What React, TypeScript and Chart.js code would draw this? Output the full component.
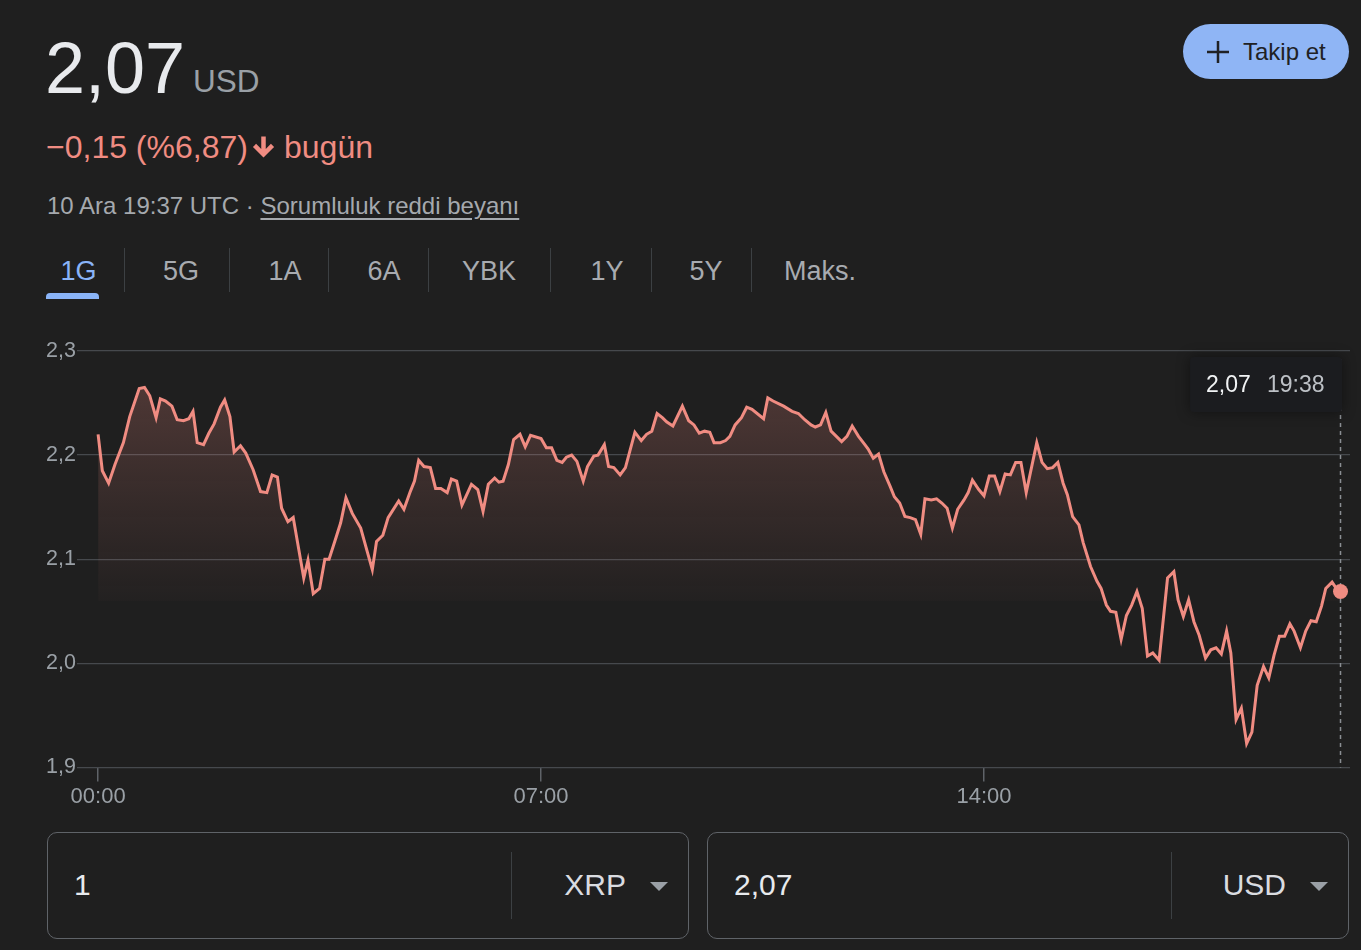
import React, { useEffect, useRef } from "react";
import { Chart, registerables } from "chart.js";

Chart.register(...registerables);

// Minutes since 00:00 (UTC) of each price sample
const times: number[] = [
  0, 4, 10, 16, 24, 30, 39, 44, 49, 55, 59, 64, 70, 75, 81, 86, 90, 94, 100, 105,
  110, 116, 120, 125, 129, 135, 140, 147, 154, 160, 165, 170, 174, 180, 185, 195, 199, 204, 210, 215,
  219, 225, 230, 235, 241, 249, 255, 260, 264, 270, 275, 285, 290, 296, 300, 304, 309, 315, 320, 325,
  331, 335, 340, 345, 354, 360, 365, 370, 376, 380, 384, 389, 394, 400, 405, 410, 420, 425, 430, 435,
  440, 444, 449, 454, 460, 464, 470, 474, 480, 484, 489, 495, 500, 505, 509, 515, 520, 525, 530, 535,
  539, 545, 554, 560, 565, 570, 575, 580, 584, 590, 595, 599, 604, 610, 615, 620, 631, 635, 640, 650,
  658, 664, 670, 676, 680, 685, 690, 695, 700, 705, 710, 715, 721, 727, 730, 735, 740, 745, 751, 755,
  760, 765, 770, 775, 780, 784, 790, 795, 800, 805, 810, 815, 821, 825, 829, 835, 840, 845, 850, 855,
  860, 865, 870, 875, 880, 890, 895, 900, 905, 910, 915, 919, 924, 930, 934, 941, 947, 951, 956, 960,
  965, 970, 975, 980, 985, 990, 995, 1000, 1006, 1014, 1020, 1024, 1029, 1034, 1039, 1044, 1050, 1055, 1060, 1065,
  1070, 1074, 1079, 1084, 1089, 1094, 1099, 1105, 1110, 1115, 1120, 1125, 1130, 1134, 1140, 1145, 1150, 1155, 1160, 1164,
  1170, 1174, 1178,
];

// XRP price in USD
const prices: number[] = [
  2.220, 2.185, 2.173, 2.191, 2.212, 2.237, 2.264, 2.265, 2.257, 2.236, 2.254, 2.252, 2.247, 2.234, 2.233, 2.235, 2.242, 2.212, 2.210, 2.221,
  2.230, 2.246, 2.253, 2.237, 2.203, 2.209, 2.202, 2.186, 2.165, 2.164, 2.181, 2.179, 2.149, 2.136, 2.140, 2.082, 2.099, 2.067, 2.072, 2.100,
  2.100, 2.119, 2.135, 2.159, 2.144, 2.130, 2.108, 2.090, 2.117, 2.123, 2.140, 2.156, 2.148, 2.165, 2.175, 2.195, 2.189, 2.188, 2.168, 2.168,
  2.164, 2.177, 2.175, 2.152, 2.172, 2.167, 2.146, 2.172, 2.178, 2.174, 2.175, 2.191, 2.215, 2.220, 2.208, 2.219, 2.216, 2.207, 2.207, 2.195,
  2.193, 2.198, 2.200, 2.194, 2.175, 2.189, 2.199, 2.200, 2.210, 2.189, 2.188, 2.181, 2.188, 2.207, 2.222, 2.214, 2.220, 2.223, 2.240, 2.236,
  2.232, 2.228, 2.247, 2.233, 2.229, 2.221, 2.223, 2.222, 2.212, 2.212, 2.214, 2.218, 2.229, 2.236, 2.246, 2.244, 2.235, 2.255, 2.252, 2.247,
  2.242, 2.240, 2.234, 2.229, 2.227, 2.229, 2.241, 2.223, 2.218, 2.213, 2.218, 2.228, 2.218, 2.210, 2.206, 2.197, 2.201, 2.184, 2.170, 2.160,
  2.154, 2.141, 2.140, 2.138, 2.124, 2.158, 2.157, 2.158, 2.154, 2.149, 2.130, 2.148, 2.157, 2.164, 2.176, 2.167, 2.161, 2.180, 2.180, 2.165,
  2.182, 2.181, 2.193, 2.193, 2.164, 2.212, 2.193, 2.187, 2.188, 2.193, 2.173, 2.162, 2.141, 2.133, 2.116, 2.093, 2.079, 2.072, 2.056, 2.050,
  2.049, 2.023, 2.046, 2.056, 2.069, 2.053, 2.007, 2.010, 2.003, 2.082, 2.088, 2.061, 2.045, 2.061, 2.040, 2.027, 2.005, 2.013, 2.015, 2.009,
  2.031, 2.010, 1.946, 1.957, 1.923, 1.934, 1.979, 1.997, 1.986, 2.008, 2.026, 2.026, 2.038, 2.031, 2.015, 2.031, 2.041, 2.040, 2.055, 2.072,
  2.078, 2.072, 2.069,
];

const xTicks: number[] = [0, 420, 840];
const yTicks: number[] = [1.9, 2.0, 2.1, 2.2, 2.3];
const tabs: string[] = ["1G", "5G", "1A", "6A", "YBK", "1Y", "5Y", "Maks."];

const FONT = '"Liberation Sans", Arial, Helvetica, sans-serif';
const BG = "#1f1f1f";
const LINE = "#f08c82";
const GRID = "#46494d";
const MUTED = "#9aa0a6";
const TEXT = "#e8eaed";

const fmtTime = (m: number) =>
  `${String(Math.floor(m / 60)).padStart(2, "0")}:${String(Math.round(m % 60)).padStart(2, "0")}`;
const fmtNum = (v: number, d: number) => v.toFixed(d).replace(".", ",");

const markerPlugin = {
  id: "lastMarker",
  beforeDatasetsDraw(chart: any) {
    const { ctx, chartArea, scales } = chart;
    const px = scales.x.getPixelForValue(times[times.length - 1]);
    ctx.save();
    ctx.strokeStyle = "#8a8e93";
    ctx.lineWidth = 1.5;
    ctx.setLineDash([4, 4]);
    ctx.beginPath();
    ctx.moveTo(px, chartArea.top + 8);
    ctx.lineTo(px, chartArea.bottom);
    ctx.stroke();
    ctx.restore();
  },
  afterDatasetsDraw(chart: any) {
    const { ctx, chartArea, scales } = chart;
    const lastT = times[times.length - 1];
    const lastP = prices[prices.length - 1];
    const px = scales.x.getPixelForValue(lastT);
    const w = 152;
    const h = 55;
    const right = px + 1.5;
    const left = right - w;
    const top = chartArea.top + 6;
    ctx.save();
    ctx.shadowColor = "rgba(0,0,0,0.45)";
    ctx.shadowBlur = 14;
    ctx.fillStyle = "#1b1c1f";
    ctx.beginPath();
    ctx.roundRect(left, top, w, h, 4);
    ctx.fill();
    ctx.shadowBlur = 0;
    ctx.shadowColor = "transparent";
    ctx.textBaseline = "middle";
    ctx.textAlign = "left";
    ctx.font = `23px ${FONT}`;
    ctx.fillStyle = "#f1f3f4";
    ctx.fillText(fmtNum(lastP, 2), left + 16, top + h / 2 + 1);
    ctx.fillStyle = "#bdc1c6";
    ctx.fillText(fmtTime(lastT), left + 77, top + h / 2 + 1);
    ctx.restore();
  },
};

function PriceChart() {
  const ref = useRef<HTMLCanvasElement | null>(null);
  useEffect(() => {
    if (!ref.current) return;
    const n = times.length;
    const chart = new Chart(ref.current, {
      type: "line",
      data: {
        datasets: [
          {
            data: times.map((t, i) => ({ x: t, y: prices[i] })),
            borderColor: LINE,
            borderWidth: 3,
            tension: 0,
            borderJoinStyle: "miter",
            pointRadius: (c: any) => (c.dataIndex === n - 1 ? 7.5 : 0),
            pointBackgroundColor: LINE,
            pointBorderWidth: 0,
            pointHoverRadius: 0,
            fill: { target: { value: 2.06 }, below: "rgba(0,0,0,0)" } as any,
            backgroundColor: (c: any) => {
              const ch = c.chart;
              const area = ch.chartArea;
              if (!area) return "rgba(0,0,0,0)";
              const y = ch.scales.y;
              const g = ch.ctx.createLinearGradient(0, y.getPixelForValue(2.27), 0, y.getPixelForValue(2.06));
              g.addColorStop(0, "rgba(240,140,130,0.23)");
              g.addColorStop(0.55, "rgba(240,140,130,0.11)");
              g.addColorStop(1, "rgba(240,140,130,0.02)");
              return g;
            },
          } as any,
        ],
      },
      options: {
        animation: false,
        responsive: true,
        maintainAspectRatio: false,
        events: [],
        layout: { padding: { top: 21, right: 11, left: 0, bottom: 0 } },
        plugins: { legend: { display: false }, tooltip: { enabled: false } },
        scales: {
          x: {
            type: "linear",
            min: -20,
            max: 1187,
            afterFit: (s: any) => {
              s.height = 52.5;
            },
            afterBuildTicks: (s: any) => {
              s.ticks = xTicks.map((v) => ({ value: v }));
            },
            grid: { drawOnChartArea: false, drawTicks: true, tickLength: 14, color: "#5f6368", lineWidth: 1.5 },
            border: { display: false },
            ticks: {
              color: MUTED,
              font: { family: FONT, size: 22 },
              padding: 2,
              maxRotation: 0,
              autoSkip: false,
              callback: (v: any) => fmtTime(Number(v)),
            },
          },
          y: {
            min: 1.9,
            max: 2.3,
            afterFit: (s: any) => {
              s.width = 77;
            },
            afterBuildTicks: (s: any) => {
              s.ticks = yTicks.map((v) => ({ value: v }));
            },
            grid: { color: GRID, lineWidth: 1.3, drawTicks: false },
            border: { display: false },
            ticks: {
              color: MUTED,
              font: { family: FONT, size: 21.5 },
              padding: 1,
              callback: (v: any) => fmtNum(Number(v), 1),
            },
          },
        },
      },
      plugins: [markerPlugin as any],
    });
    return () => chart.destroy();
  }, []);
  return <canvas ref={ref} style={{ width: "100%", height: "100%", display: "block" }} />;
}

const abs = (left: number, top: number, extra: React.CSSProperties = {}): React.CSSProperties => ({
  position: "absolute",
  left,
  top,
  lineHeight: 1,
  whiteSpace: "nowrap",
  ...extra,
});

export default function App() {
  useEffect(() => {
    document.body.style.margin = "0";
    document.body.style.background = BG;
  }, []);

  const tabCenters = [78.5, 181, 285, 384, 489, 607, 706, 820];
  const seps = [124, 229, 328, 428, 550, 651, 751];

  return (
    <div
      style={{
        position: "absolute",
        left: 0,
        top: 0,
        width: 1361,
        height: 950,
        background: BG,
        fontFamily: FONT,
        overflow: "hidden",
      }}
    >
      {/* Price header */}
      <div style={abs(45, 32, { fontSize: 72, color: TEXT })}>2,07</div>
      <div style={abs(193, 65.5, { fontSize: 31.5, color: MUTED })}>USD</div>

      <div style={abs(46, 131, { fontSize: 32, color: LINE })}>−0,15 (%6,87)</div>
      <svg style={{ position: "absolute", left: 250, top: 133 }} width="27" height="27" viewBox="0 0 24 24">
        <path
          d="M10 3h4v11.2l4.6-4.6 2.8 2.8L12 21.8 2.6 12.4l2.8-2.8L10 14.2z"
          fill={LINE}
        />
      </svg>
      <div style={abs(284, 131, { fontSize: 32, color: LINE })}>bugün</div>

      <div style={abs(47, 194, { fontSize: 24, color: "#a5a9ae" })}>
        10 Ara 19:37 UTC ·{" "}
        <span style={{ textDecoration: "underline", textUnderlineOffset: 4 }}>Sorumluluk reddi beyanı</span>
      </div>

      {/* Range tabs */}
      {tabs.map((t, i) => (
        <div
          key={t}
          style={abs(tabCenters[i], 258, {
            fontSize: 27,
            color: i === 0 ? "#8ab4f8" : "#a8abb0",
            transform: "translateX(-50%)",
          })}
        >
          {t}
        </div>
      ))}
      {seps.map((x) => (
        <div key={x} style={{ position: "absolute", left: x, top: 248, width: 1, height: 44, background: "#3c4043" }} />
      ))}
      <div
        style={{
          position: "absolute",
          left: 46,
          top: 293,
          width: 53,
          height: 6,
          background: "#8ab4f8",
          borderRadius: "4px 4px 0 0",
        }}
      />

      {/* Follow button */}
      <div
        style={{
          position: "absolute",
          left: 1183,
          top: 24,
          width: 166,
          height: 55,
          borderRadius: 28,
          background: "#8fb5f5",
        }}
      >
        <svg style={{ position: "absolute", left: 23, top: 16 }} width="24" height="24" viewBox="0 0 24 24">
          <rect x="10.75" y="1" width="2.5" height="22" fill="#202124" />
          <rect x="1" y="10.75" width="22" height="2.5" fill="#202124" />
        </svg>
        <div style={abs(60, 15.5, { fontSize: 24, color: "#202124" })}>Takip et</div>
      </div>

      {/* Chart */}
      <div style={{ position: "absolute", left: 0, top: 330, width: 1361, height: 490 }}>
        <PriceChart />
      </div>

      {/* Converter */}
      {[
        { left: 47, value: "1", cur: "XRP" },
        { left: 707, value: "2,07", cur: "USD" },
      ].map((b) => (
        <div
          key={b.cur}
          style={{
            position: "absolute",
            left: b.left,
            top: 832,
            width: 642,
            height: 107,
            boxSizing: "border-box",
            border: "1.5px solid #5f6368",
            borderRadius: 10,
          }}
        >
          <div style={abs(26, 37, { fontSize: 30, color: TEXT })}>{b.value}</div>
          <div style={{ position: "absolute", left: 463, top: 19, width: 1, height: 67, background: "#3c4043" }} />
          <div style={abs(578, 37, { fontSize: 30, color: "#dadce0", transform: "translateX(-100%)" })}>{b.cur}</div>
          <svg style={{ position: "absolute", left: 602, top: 49 }} width="18" height="9" viewBox="0 0 18 9">
            <path d="M0 0h18L9 9z" fill={MUTED} />
          </svg>
        </div>
      ))}
    </div>
  );
}
